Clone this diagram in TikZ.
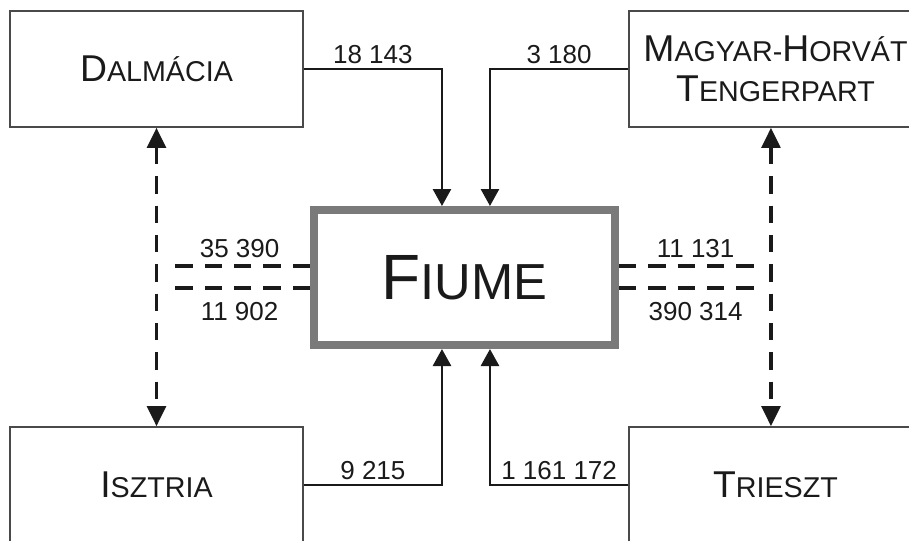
\documentclass[tikz,border=0pt]{standalone}
\usepackage{fontspec}
\setmainfont{Liberation Sans}
\usepackage{tikz}
\usetikzlibrary{arrows.meta}
\definecolor{ink}{HTML}{1A1A1A}
\definecolor{boxgray}{HTML}{4A4A4A}
\definecolor{hubgray}{HTML}{7A7A7A}
\newcommand{\capsbig}{\fontsize{28}{30}\selectfont}
\newcommand{\capssmall}{\fontsize{21.5}{30}\selectfont}
\newcommand{\sctext}[2]{{\capsbig #1}{\capssmall #2}}
\tikzset{
  region/.style={draw=boxgray,line width=1.2pt,minimum width=219.75pt,minimum height=87pt,
    inner sep=0pt,text=ink,align=center,font=\capssmall},
  hub/.style={draw=hubgray,line width=6pt,minimum width=225.75pt,minimum height=101.25pt,
    inner sep=0pt,text=ink},
  flow/.style={ink,line width=2pt,-{Triangle[length=12.75pt,width=13.5pt]}},
  trade/.style={ink,line width=2.4pt,dash pattern=on 13pt off 9pt},
  twoway/.style={trade,{Triangle[length=15pt,width=14pt]}-{Triangle[length=15pt,width=14pt]}},
  qty/.style={font=\fontsize{19.5}{22}\selectfont,text=ink,inner sep=1pt}
}

\begin{document}
\begin{tikzpicture}[x=0.75pt,y=-0.75pt]
\useasboundingbox (0,0) rectangle (909,540);
\clip (0,0) rectangle (909,540);
% the five places
\node[region] (dal) at (156.5,69) {\sctext{D}{ALMÁCIA}};
\node[region] (mht) at (775.5,69) {\sctext{M}{AGYAR-}\sctext{H}{ORVÁT}\\\sctext{T}{ENGERPART}};
\node[region] (isz) at (156.5,485) {\sctext{I}{SZTRIA}};
\node[region] (tri) at (775.5,485) {\sctext{T}{RIESZT}};
\node[hub] (fiume) at (464.5,277.5) {{\fontsize{48}{50}\selectfont F}{\fontsize{38}{50}\selectfont IUME}};
% solid flows into Fiume
\draw[flow] (dal.east) -| ([xshift=-16.9pt]fiume.north) node[pos=0.25,qty,above=2pt] {18 143};
\draw[flow] (mht.west) -| ([xshift=19.1pt]fiume.north) node[pos=0.25,qty,above=2pt] {3 180};
\draw[flow] (isz.east) -| ([xshift=-16.9pt]fiume.south) node[pos=0.25,qty,above=2pt] {9 215};
\draw[flow] (tri.west) -| ([xshift=19.1pt]fiume.south) node[pos=0.25,qty,above=2pt] {1 161 172};
% dashed links
\draw[twoway] (dal.south) -- (isz.north);
\coordinate (dr) at ([xshift=-3.4pt]mht.south);
\coordinate (tr) at ([xshift=-3.4pt]tri.north);
\draw[twoway] (dr) -- (tr);
\coordinate (wU) at ([yshift=8.6pt]fiume.west);
\coordinate (wL) at ([yshift=-7.9pt]fiume.west);
\coordinate (eU) at ([yshift=8.6pt]fiume.east);
\coordinate (eL) at ([yshift=-7.9pt]fiume.east);
\coordinate (wUend) at ([xshift=9.5pt]wU -| dal.south);
\coordinate (wLend) at ([xshift=9.5pt]wL -| dal.south);
\coordinate (eUend) at ([xshift=-9.5pt]eU -| dr);
\coordinate (eLend) at ([xshift=-9.5pt]eL -| dr);
\draw[trade] (wU) -- (wUend) node[midway,qty,above=3.8pt] {35 390};
\draw[trade] (wL) -- (wLend) node[midway,qty,below=8.3pt] {11 902};
\draw[trade] (eU) -- (eUend) node[pos=0.55,qty,above=3.8pt] {11 131};
\draw[trade] (eL) -- (eLend) node[pos=0.55,qty,below=8.3pt] {390 314};
\end{tikzpicture}
\end{document}
